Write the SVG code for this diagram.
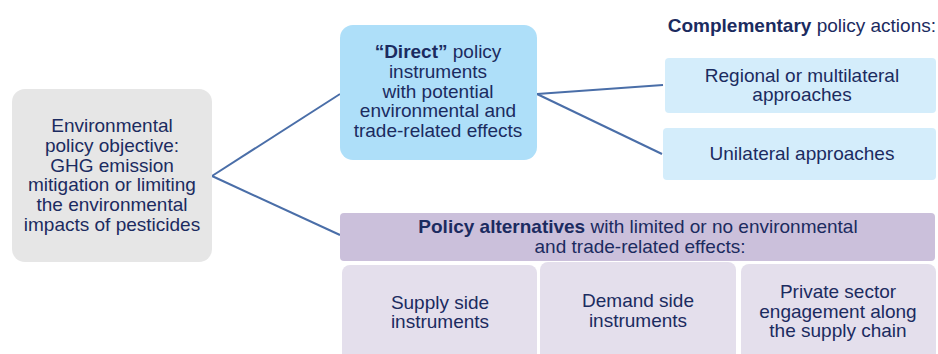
<svg xmlns="http://www.w3.org/2000/svg" width="938" height="354" viewBox="0 0 938 354">
<style>
text{font-family:"Liberation Sans",Arial,sans-serif;font-size:19px;fill:#1b2b60;text-anchor:middle}
.b{font-weight:bold}
.conn{stroke:#4a6ea8;stroke-width:2;fill:none}
</style>
<rect width="938" height="354" fill="#ffffff"/>
<g id="connectors">
<line class="conn" x1="212" y1="176" x2="340" y2="94"/>
<line class="conn" x1="212" y1="176" x2="340" y2="235"/>
<line class="conn" x1="537" y1="94" x2="663" y2="85"/>
<line class="conn" x1="537" y1="94" x2="662" y2="154"/>
</g>
<g id="objective">
<rect x="12" y="89" width="200" height="173" rx="13" fill="#e6e6e6"/>
<text x="112" y="132">Environmental</text>
<text x="112" y="151.8">policy objective:</text>
<text x="112" y="171.6">GHG emission</text>
<text x="112" y="191.4">mitigation or limiting</text>
<text x="112" y="211.2">the environmental</text>
<text x="112" y="231">impacts of pesticides</text>
</g>
<g id="direct">
<rect x="340" y="25" width="197" height="135" rx="13" fill="#aedff9"/>
<text x="438" y="58"><tspan class="b">“Direct”</tspan> policy</text>
<text x="438" y="77.8">instruments</text>
<text x="438" y="97.6">with potential</text>
<text x="438" y="117.4">environmental and</text>
<text x="438" y="137.2">trade-related effects</text>
</g>
<g id="complementary-title">
<text x="936" y="32" style="text-anchor:end"><tspan class="b">Complementary</tspan> policy actions:</text>
</g>
<g id="regional">
<rect x="665" y="58" width="271" height="55" rx="4" fill="#d4edfb"/>
<text x="802" y="81.5">Regional or multilateral</text>
<text x="802" y="101">approaches</text>
</g>
<g id="unilateral">
<rect x="663" y="128" width="273" height="52" rx="4" fill="#d4edfb"/>
<text x="802" y="160">Unilateral approaches</text>
</g>
<g id="alternatives">
<rect x="340" y="213" width="595" height="48" rx="4" fill="#cbc0db"/>
<text x="638" y="233"><tspan class="b">Policy alternatives</tspan> with limited or no environmental</text>
<text x="640" y="252.7">and trade-related effects:</text>
</g>
<g id="supply">
<rect x="342" y="265" width="195" height="100" rx="8" fill="#e4dfec"/>
<text x="440" y="309">Supply side</text>
<text x="440" y="328">instruments</text>
</g>
<g id="demand">
<rect x="540" y="262" width="196" height="103" rx="8" fill="#e4dfec"/>
<text x="638" y="307">Demand side</text>
<text x="638" y="326.5">instruments</text>
</g>
<g id="private">
<rect x="741" y="264" width="195" height="101" rx="8" fill="#e4dfec"/>
<text x="838" y="298">Private sector</text>
<text x="838" y="317.5">engagement along</text>
<text x="838" y="337">the supply chain</text>
</g>
</svg>
